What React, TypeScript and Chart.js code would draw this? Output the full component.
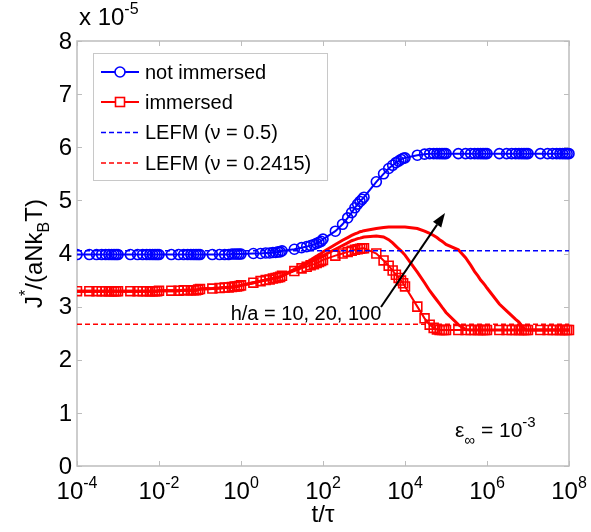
import React, { useEffect, useRef } from "react";
import { Chart, registerables } from "chart.js";

Chart.register(...registerables);

// time grid: k x 10^n, k = 1..9 for each decade, plus 1e8
const decadeExponents = [-4, -3, -2, -1, 0, 1, 2, 3, 4, 5, 6, 7];
const decadeMultipliers = [1, 2, 3, 4, 5, 6, 7, 8, 9];
const lastTime = 1e8;

const xTickExponents = [-4, -2, 0, 2, 4, 6, 8];
const yTickValues = [0, 1, 2, 3, 4, 5, 6, 7, 8];

// J* values in units of 1e-5
const notImmersed = [
  3.98, 3.98, 3.98, 3.98, 3.98, 3.98, 3.98, 3.98, 3.98,
  3.98, 3.98, 3.98, 3.98, 3.98, 3.98, 3.98, 3.98, 3.98,
  3.98, 3.98, 3.98, 3.98, 3.98, 3.98, 3.98, 3.98, 3.98,
  3.98, 3.98, 3.98, 3.98, 3.98, 3.99, 3.99, 3.99, 3.99,
  3.99, 4.0, 4.0, 4.01, 4.01, 4.02, 4.02, 4.03, 4.03,
  4.05, 4.08, 4.11, 4.13, 4.15, 4.17, 4.19, 4.21, 4.23,
  4.27, 4.42, 4.55, 4.67, 4.77, 4.86, 4.93, 4.98, 5.02,
  5.06, 5.35, 5.5, 5.6, 5.66, 5.71, 5.74, 5.77, 5.79,
  5.8, 5.85, 5.87, 5.88, 5.88, 5.88, 5.88, 5.88, 5.88,
  5.88, 5.88, 5.88, 5.88, 5.88, 5.88, 5.88, 5.88, 5.88,
  5.88, 5.88, 5.88, 5.88, 5.88, 5.88, 5.88, 5.88, 5.88,
  5.88, 5.88, 5.88, 5.88, 5.88, 5.88, 5.88, 5.88, 5.88,
  5.88,
];

// immersed, h/a = 10 (with square markers)
const immersed = [
  3.29, 3.29, 3.29, 3.29, 3.29, 3.29, 3.29, 3.29, 3.29,
  3.29, 3.29, 3.29, 3.29, 3.29, 3.29, 3.29, 3.29, 3.29,
  3.3, 3.3, 3.3, 3.31, 3.31, 3.31, 3.31, 3.31, 3.32,
  3.33, 3.34, 3.35, 3.36, 3.36, 3.37, 3.38, 3.38, 3.39,
  3.4, 3.45, 3.48, 3.5, 3.51, 3.53, 3.54, 3.55, 3.56,
  3.58, 3.67, 3.72, 3.75, 3.78, 3.8, 3.82, 3.84, 3.86,
  3.88, 3.96, 4.0, 4.03, 4.05, 4.07, 4.08, 4.09, 4.1,
  4.1, 4.0, 3.87, 3.77, 3.68, 3.6, 3.54, 3.49, 3.44,
  3.38, 3.0, 2.78, 2.66, 2.6, 2.57, 2.56, 2.56, 2.56,
  2.56, 2.56, 2.56, 2.56, 2.56, 2.56, 2.56, 2.56, 2.56,
  2.56, 2.56, 2.56, 2.56, 2.56, 2.56, 2.56, 2.56, 2.56,
  2.56, 2.56, 2.56, 2.56, 2.56, 2.56, 2.56, 2.56, 2.56,
  2.56,
];

// immersed, h/a = 20 (solid line)
const immersedH20 = [
  3.29, 3.29, 3.29, 3.29, 3.29, 3.29, 3.29, 3.29, 3.29,
  3.29, 3.29, 3.29, 3.29, 3.29, 3.29, 3.29, 3.29, 3.29,
  3.3, 3.3, 3.3, 3.31, 3.31, 3.31, 3.31, 3.31, 3.32,
  3.33, 3.34, 3.35, 3.36, 3.36, 3.37, 3.38, 3.38, 3.39,
  3.4, 3.45, 3.48, 3.5, 3.51, 3.53, 3.54, 3.55, 3.56,
  3.58, 3.69, 3.75, 3.8, 3.84, 3.87, 3.9, 3.92, 3.94,
  3.96, 4.08, 4.15, 4.2, 4.24, 4.26, 4.28, 4.29, 4.3,
  4.31, 4.33, 4.31, 4.26, 4.2, 4.14, 4.09, 4.05, 4.01,
  3.97, 3.65, 3.45, 3.3, 3.2, 3.12, 3.05, 2.99, 2.94,
  2.89, 2.66, 2.57, 2.56, 2.56, 2.56, 2.56, 2.56, 2.56,
  2.56, 2.56, 2.56, 2.56, 2.56, 2.56, 2.56, 2.56, 2.56,
  2.56, 2.56, 2.56, 2.56, 2.56, 2.56, 2.56, 2.56, 2.56,
  2.56,
];

// immersed, h/a = 100 (solid line)
const immersedH100 = [
  3.29, 3.29, 3.29, 3.29, 3.29, 3.29, 3.29, 3.29, 3.29,
  3.29, 3.29, 3.29, 3.29, 3.29, 3.29, 3.29, 3.29, 3.29,
  3.3, 3.3, 3.3, 3.31, 3.31, 3.31, 3.31, 3.31, 3.32,
  3.33, 3.34, 3.35, 3.36, 3.36, 3.37, 3.38, 3.38, 3.39,
  3.4, 3.45, 3.48, 3.5, 3.51, 3.53, 3.54, 3.55, 3.56,
  3.58, 3.7, 3.77, 3.83, 3.88, 3.92, 3.95, 3.98, 4.0,
  4.03, 4.17, 4.25, 4.3, 4.34, 4.37, 4.39, 4.41, 4.42,
  4.43, 4.47, 4.49, 4.5, 4.5, 4.5, 4.5, 4.5, 4.5,
  4.5, 4.47, 4.42, 4.38, 4.34, 4.3, 4.26, 4.23, 4.2,
  4.17, 4.07, 3.92, 3.78, 3.66, 3.58, 3.5, 3.45, 3.4,
  3.35, 3.05, 2.92, 2.83, 2.76, 2.71, 2.64, 2.59, 2.56,
  2.56, 2.56, 2.56, 2.56, 2.56, 2.56, 2.56, 2.56, 2.56,
  2.56,
];

const lefmNu05 = 4.05;
const lefmNu02415 = 2.67;

const legendLabels = ["not immersed", "immersed", "LEFM (\u03bd = 0.5)", "LEFM (\u03bd = 0.2415)"];

const BLUE = "#0000ff";
const RED = "#ff0000";
const AXIS_GRAY = "#bdbdbd";
const FONT = '"Liberation Sans", Arial, Helvetica, sans-serif';
const font = (px: number) => `${px}px ${FONT}`;

const tTimes: number[] = [
  ...decadeExponents.flatMap((e) => decadeMultipliers.map((m) => m * Math.pow(10, e))),
  lastTime,
];
const toPoints = (ys: number[]) => tTimes.map((t, i) => ({ x: t, y: ys[i] }));

type Seg = [string, number, number]; // text, size, baseline offset

function segWidth(ctx: CanvasRenderingContext2D, segs: Seg[]) {
  let w = 0;
  for (const [t, s] of segs) {
    ctx.font = font(s);
    w += ctx.measureText(t).width;
  }
  return w;
}

function drawSegs(ctx: CanvasRenderingContext2D, segs: Seg[], x: number, y: number) {
  let cx = x;
  ctx.textBaseline = "alphabetic";
  ctx.textAlign = "left";
  for (const [t, s, dy] of segs) {
    ctx.font = font(s);
    ctx.fillText(t, cx, y + dy);
    cx += ctx.measureText(t).width;
  }
}

const decorPlugin = {
  id: "decor",
  beforeDatasetsDraw(chart: any) {
    const ctx: CanvasRenderingContext2D = chart.ctx;
    const { left, right, top, bottom } = chart.chartArea;
    const xs = chart.scales.x;
    const ys = chart.scales.y;
    ctx.save();
    ctx.strokeStyle = AXIS_GRAY;
    ctx.lineWidth = 1.5;
    ctx.strokeRect(left, top, right - left, bottom - top);
    ctx.lineWidth = 1;
    ctx.beginPath();
    for (const v of yTickValues) {
      const py = Math.round(ys.getPixelForValue(v)) + 0.5;
      ctx.moveTo(left, py);
      ctx.lineTo(left + 5, py);
      ctx.moveTo(right, py);
      ctx.lineTo(right - 5, py);
    }
    for (const e of xTickExponents) {
      const px = Math.round(xs.getPixelForValue(Math.pow(10, e))) + 0.5;
      ctx.moveTo(px, bottom);
      ctx.lineTo(px, bottom - 5);
      ctx.moveTo(px, top);
      ctx.lineTo(px, top + 5);
    }
    ctx.stroke();
    ctx.restore();
  },
  afterDraw(chart: any) {
    const ctx: CanvasRenderingContext2D = chart.ctx;
    const { left, right, top, bottom } = chart.chartArea;
    const xs = chart.scales.x;
    const ys = chart.scales.y;
    ctx.save();
    ctx.fillStyle = "#000";

    // y tick labels
    ctx.font = font(24);
    ctx.textAlign = "right";
    ctx.textBaseline = "middle";
    for (const v of yTickValues) {
      ctx.fillText(String(v), left - 5, ys.getPixelForValue(v) + 1);
    }

    // x tick labels 10^n
    for (const e of xTickExponents) {
      const px = xs.getPixelForValue(Math.pow(10, e));
      const segs: Seg[] = [["10", 24, 0], [String(e), 16, -11]];
      const w = segWidth(ctx, segs);
      drawSegs(ctx, segs, px - w / 2, bottom + 33);
    }

    // exponent multiplier
    drawSegs(ctx, [["x 10", 24, 0], ["-5", 16, -11]], left + 2, 25);

    // x title
    {
      const segs: Seg[] = [["t/\u03c4", 24, 0]];
      const w = segWidth(ctx, segs);
      drawSegs(ctx, segs, (left + right) / 2 - w / 2, 522);
    }

    // y title (rotated)
    {
      const segs: Seg[] = [["J", 24, 0], ["*", 16, -11], ["/(aNk", 24, 0], ["B", 16, 7], ["T)", 24, 0]];
      const w = segWidth(ctx, segs);
      ctx.save();
      ctx.translate(42, (top + bottom) / 2);
      ctx.rotate(-Math.PI / 2);
      drawSegs(ctx, segs, -w / 2, 0);
      ctx.restore();
    }

    // annotation text and arrow
    {
      ctx.font = font(20);
      ctx.textAlign = "center";
      ctx.textBaseline = "middle";
      ctx.fillText("h/a = 10, 20, 100", 306, 314);
      const x0 = 381, y0 = 307, x1 = 445, y1 = 213;
      const ang = Math.atan2(y1 - y0, x1 - x0);
      const hl = 14, hw = 5;
      const bx = x1 - hl * Math.cos(ang);
      const by = y1 - hl * Math.sin(ang);
      ctx.strokeStyle = "#000";
      ctx.lineWidth = 2;
      ctx.beginPath();
      ctx.moveTo(x0, y0);
      ctx.lineTo(bx, by);
      ctx.stroke();
      ctx.beginPath();
      ctx.moveTo(x1, y1);
      ctx.lineTo(bx + hw * Math.sin(ang), by - hw * Math.cos(ang));
      ctx.lineTo(bx - hw * Math.sin(ang), by + hw * Math.cos(ang));
      ctx.closePath();
      ctx.fill();
    }

    // epsilon annotation
    drawSegs(ctx, [["\u03b5", 21, 0], ["\u221e", 15, 8], [" = 10", 21, 0], ["-3", 15, -10]], 455, 437);

    // legend
    {
      const bx = 93, by = 53, bw = 234, bh = 127;
      ctx.fillStyle = "#fff";
      ctx.fillRect(bx, by, bw, bh);
      ctx.strokeStyle = "#c8c8c8";
      ctx.lineWidth = 1;
      ctx.strokeRect(bx + 0.5, by + 0.5, bw, bh);
      const rows = [72, 102, 132.5, 163];
      const colors = [BLUE, RED, BLUE, RED];
      const lx0 = 101, lx1 = 139;
      rows.forEach((ry, i) => {
        ctx.strokeStyle = colors[i];
        ctx.lineWidth = i < 2 ? 2 : 1.5;
        ctx.setLineDash(i < 2 ? [] : [5, 3]);
        ctx.beginPath();
        ctx.moveTo(lx0, ry);
        ctx.lineTo(lx1, ry);
        ctx.stroke();
        ctx.setLineDash([]);
        const mx = (lx0 + lx1) / 2;
        if (i === 0) {
          ctx.lineWidth = 1.6;
          ctx.beginPath();
          ctx.arc(mx, ry, 5, 0, Math.PI * 2);
          ctx.fillStyle = "#fff";
          ctx.fill();
          ctx.stroke();
        } else if (i === 1) {
          ctx.lineWidth = 1.6;
          ctx.fillStyle = "#fff";
          ctx.fillRect(mx - 4.5, ry - 4.5, 9, 9);
          ctx.strokeRect(mx - 4.5, ry - 4.5, 9, 9);
        }
        ctx.fillStyle = "#000";
        ctx.font = font(20);
        ctx.textAlign = "left";
        ctx.textBaseline = "middle";
        ctx.fillText(legendLabels[i], 145, ry + 1);
      });
    }
    ctx.restore();
  },
};

export default function App() {
  const ref = useRef<HTMLCanvasElement>(null);
  useEffect(() => {
    const canvas = ref.current;
    if (!canvas) return;
    const markerClip = { left: 0, top: 10, right: 10, bottom: 10 };
    const chart = new Chart(canvas, {
      type: "line",
      data: {
        datasets: [
          {
            label: legendLabels[2],
            data: [{ x: 1e-4, y: lefmNu05 }, { x: 1e8, y: lefmNu05 }],
            borderColor: BLUE,
            borderWidth: 1.5,
            borderDash: [5, 3],
            pointRadius: 0,
          },
          {
            label: legendLabels[3],
            data: [{ x: 1e-4, y: lefmNu02415 }, { x: 1e8, y: lefmNu02415 }],
            borderColor: RED,
            borderWidth: 1.5,
            borderDash: [5, 3],
            pointRadius: 0,
          },
          {
            label: legendLabels[0],
            data: toPoints(notImmersed),
            borderColor: BLUE,
            borderWidth: 2,
            pointStyle: "circle",
            pointRadius: 5,
            pointBorderWidth: 1.6,
            pointBorderColor: BLUE,
            pointBackgroundColor: "rgba(0,0,0,0)",
            clip: markerClip,
          },
          {
            label: legendLabels[1],
            data: toPoints(immersed),
            borderColor: RED,
            borderWidth: 2,
            pointStyle: "rect",
            pointRadius: 6.3,
            pointBorderWidth: 1.6,
            pointBorderColor: RED,
            pointBackgroundColor: "rgba(0,0,0,0)",
            clip: markerClip,
          },
          {
            label: "h/a = 20",
            data: toPoints(immersedH20),
            borderColor: RED,
            borderWidth: 3,
            pointRadius: 0,
          },
          {
            label: "h/a = 100",
            data: toPoints(immersedH100),
            borderColor: RED,
            borderWidth: 3,
            pointRadius: 0,
          },
        ],
      },
      options: {
        animation: false,
        responsive: false,
        devicePixelRatio: 1,
        layout: { padding: { left: 77, top: 41, right: 22, bottom: 66 } },
        plugins: { legend: { display: false }, tooltip: { enabled: false } },
        events: [],
        scales: {
          x: { type: "logarithmic", min: 1e-4, max: 1e8, display: false },
          y: { type: "linear", min: 0, max: 8, display: false },
        },
      } as any,
      plugins: [decorPlugin],
    });
    return () => chart.destroy();
  }, []);
  return (
    <div style={{ position: "absolute", left: 0, top: 0, width: 591, height: 532, background: "#fff" }}>
      <canvas ref={ref} width={591} height={532} style={{ display: "block" }} />
    </div>
  );
}
